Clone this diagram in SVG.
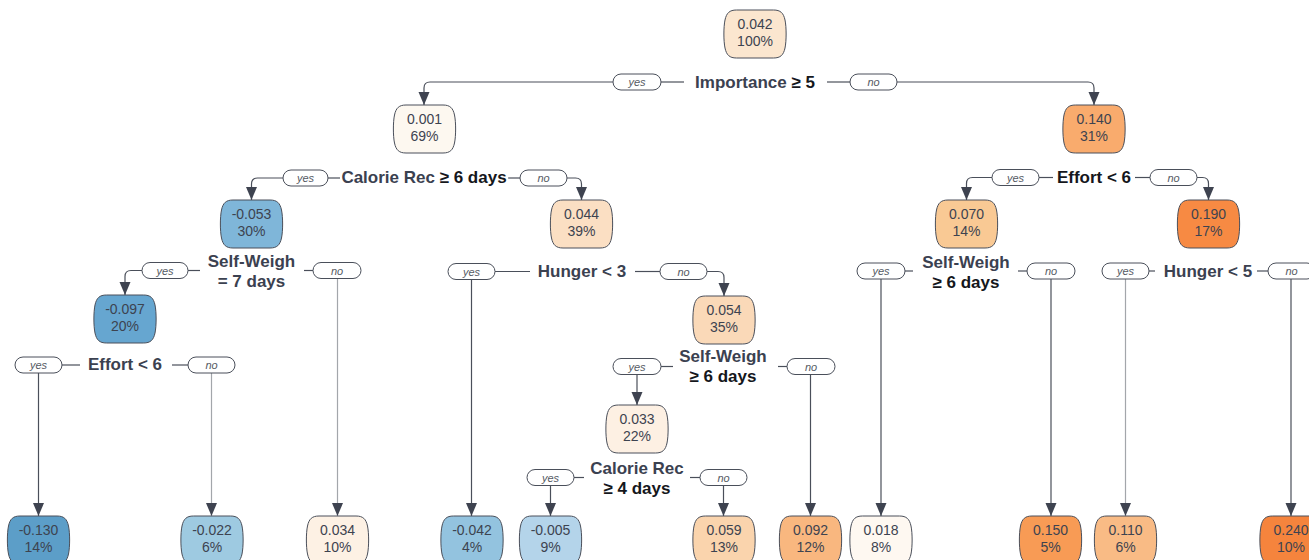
<svg xmlns="http://www.w3.org/2000/svg" xmlns:xlink="http://www.w3.org/1999/xlink" width="1309" height="560" viewBox="0 0 1309 560">
<defs>
<marker id="arr" markerUnits="userSpaceOnUse" markerWidth="12" markerHeight="14" refX="5.5" refY="13" orient="0" viewBox="0 0 11 14">
<path d="M0,0 L11,0 L5.5,13 Z" fill="#3e4350"/>
</marker>
<path id="nb" d="M13,0 H50 C57,0 60,3 61.5,10 C63,17 63,31 61.5,38 C60,45 57,48 50,48 H13 C6,48 3,45 1.5,38 C0,31 0,17 1.5,10 C3,3 6,0 13,0 Z"/>
<style>
.nd use{stroke:#4a4f5a;stroke-width:1}
.nd text{font-family:"Liberation Sans",Arial,sans-serif;font-size:14px;fill:#3d4350;text-anchor:middle}
.nd text.sp{font-size:17px;font-weight:bold;fill:#3b4150}
.nd text.blk,.nd tspan.blk{fill:#15171c}
.pl rect{fill:#ffffff;stroke:#4a4f5a;stroke-width:1}
.pl text{font-family:"Liberation Sans",Arial,sans-serif;font-size:11px;font-style:italic;fill:#555a63;text-anchor:middle}
.ln{fill:none;stroke:#4a4f5a;stroke-width:1.2}
.lt{fill:none;stroke:#a3a6ab;stroke-width:1.2}
.ar{marker-end:url(#arr)}
</style>
</defs>
<rect width="1309" height="560" fill="#ffffff"/>

<g id="connectors">
<path class="ln ar" d="M613,82 H430 Q424,82 424,88 V105"/>
<path class="ln" d="M661,82 H684"/>
<path class="ln" d="M827,82 H850"/>
<path class="ln ar" d="M897,82 H1088 Q1094,82 1094,88 V105"/>
<path class="ln ar" d="M283,178 H257.5 Q251.5,178 251.5,184 V200"/>
<path class="ln" d="M328,178 H340"/>
<path class="ln" d="M508,178 H520"/>
<path class="ln ar" d="M567,178 H575.5 Q581.5,178 581.5,184 V200"/>
<path class="ln ar" d="M992,177.5 H972.5 Q966.5,177.5 966.5,183.5 V200"/>
<path class="ln" d="M1039,177.5 H1053"/>
<path class="ln" d="M1135,177.5 H1150"/>
<path class="ln ar" d="M1197,177.5 H1202.5 Q1208.5,177.5 1208.5,183.5 V200"/>
<path class="ln ar" d="M142,270.5 H131 Q125,270.5 125,276.5 V295"/>
<path class="ln" d="M188,270.5 H200"/>
<path class="ln" d="M304,270.5 H313"/>
<path class="lt ar" d="M337.5,278.5 V516"/>
<path class="ln ar" d="M471.5,279.5 V516"/>
<path class="ln" d="M495,271.5 H530"/>
<path class="ln" d="M635,271.5 H660"/>
<path class="ln ar" d="M707,271.5 H718 Q724,271.5 724,277.5 V296"/>
<path class="ln ar" d="M38.5,373 V516"/>
<path class="ln" d="M62,365 H80"/>
<path class="ln" d="M172,365 H188"/>
<path class="lt ar" d="M211.5,373 V516"/>
<path class="ln ar" d="M637,374.5 V405"/>
<path class="ln" d="M661,366.5 H673"/>
<path class="ln" d="M778,366.5 H787"/>
<path class="ln ar" d="M810.5,374.5 V516"/>
<path class="ln ar" d="M550.5,485.5 V516"/>
<path class="ln" d="M574,477.5 H584"/>
<path class="ln" d="M690,477.5 H700"/>
<path class="ln ar" d="M723.5,485.5 V516"/>
<path class="ln ar" d="M881,279 V516"/>
<path class="ln" d="M905,271 H913"/>
<path class="ln" d="M1018,271 H1027"/>
<path class="ln ar" d="M1051,279 V516"/>
<path class="lt ar" d="M1125.5,279 V516"/>
<path class="ln" d="M1149,271 H1155"/>
<path class="ln" d="M1257,271 H1268"/>
<path class="ln ar" d="M1291,279 V516"/>
</g>

<g id="edge-labels">
<g class="pl"><rect x="613" y="74" width="48" height="16" rx="8"/><text x="637" y="86">yes</text></g>
<g class="pl"><rect x="850" y="74" width="47" height="16" rx="8"/><text x="873.5" y="86">no</text></g>
<g class="pl"><rect x="283" y="170" width="45" height="16" rx="8"/><text x="305.5" y="182">yes</text></g>
<g class="pl"><rect x="520" y="170" width="47" height="16" rx="8"/><text x="543.5" y="182">no</text></g>
<g class="pl"><rect x="992" y="169.5" width="47" height="16" rx="8"/><text x="1015.5" y="181.5">yes</text></g>
<g class="pl"><rect x="1150" y="169.5" width="47" height="16" rx="8"/><text x="1173.5" y="181.5">no</text></g>
<g class="pl"><rect x="142" y="262.5" width="46" height="16" rx="8"/><text x="165" y="274.5">yes</text></g>
<g class="pl"><rect x="313" y="262.5" width="48" height="16" rx="8"/><text x="337" y="274.5">no</text></g>
<g class="pl"><rect x="448" y="263.5" width="47" height="16" rx="8"/><text x="471.5" y="275.5">yes</text></g>
<g class="pl"><rect x="660" y="263.5" width="47" height="16" rx="8"/><text x="683.5" y="275.5">no</text></g>
<g class="pl"><rect x="15" y="357" width="47" height="16" rx="8"/><text x="38.5" y="369">yes</text></g>
<g class="pl"><rect x="188" y="357" width="47" height="16" rx="8"/><text x="211.5" y="369">no</text></g>
<g class="pl"><rect x="613" y="358.5" width="48" height="16" rx="8"/><text x="637" y="370.5">yes</text></g>
<g class="pl"><rect x="787" y="358.5" width="48" height="16" rx="8"/><text x="811" y="370.5">no</text></g>
<g class="pl"><rect x="527" y="469.5" width="47" height="16" rx="8"/><text x="550.5" y="481.5">yes</text></g>
<g class="pl"><rect x="700" y="469.5" width="47" height="16" rx="8"/><text x="723.5" y="481.5">no</text></g>
<g class="pl"><rect x="857" y="263" width="48" height="16" rx="8"/><text x="881" y="275">yes</text></g>
<g class="pl"><rect x="1027" y="263" width="48" height="16" rx="8"/><text x="1051" y="275">no</text></g>
<g class="pl"><rect x="1102" y="263" width="47" height="16" rx="8"/><text x="1125.5" y="275">yes</text></g>
<g class="pl"><rect x="1268" y="263" width="47" height="16" rx="8"/><text x="1291.5" y="275">no</text></g>
</g>

<g id="n-root" class="nd"><use xlink:href="#nb" href="#nb" x="723.5" y="10" fill="#fbe6cf"/><text x="755" y="29">0.042</text><text x="755" y="46">100%</text>
<text class="sp" x="755" y="88">Importance <tspan class="blk">≥ 5</tspan></text></g>

<g id="n-0001" class="nd"><use xlink:href="#nb" href="#nb" x="393" y="105" fill="#fdf8f0"/><text x="424.5" y="124">0.001</text><text x="424.5" y="141">69%</text>
<text class="sp" x="424" y="183">Calorie Rec <tspan class="blk">≥ 6 days</tspan></text></g>

<g id="n-0140" class="nd"><use xlink:href="#nb" href="#nb" x="1062.5" y="105" fill="#f9ab6d"/><text x="1094" y="124">0.140</text><text x="1094" y="141">31%</text>
<text class="sp blk" x="1094" y="183">Effort &lt; 6</text></g>

<g id="n-m0053" class="nd"><use xlink:href="#nb" href="#nb" x="220" y="200" fill="#7fb6d9"/><text x="251.5" y="219">-0.053</text><text x="251.5" y="236">30%</text>
<text class="sp" x="251.5" y="267">Self-Weigh</text><text class="sp" x="251.5" y="287">= 7 days</text></g>

<g id="n-0044" class="nd"><use xlink:href="#nb" href="#nb" x="550" y="200" fill="#fbdfc3"/><text x="581.5" y="219">0.044</text><text x="581.5" y="236">39%</text>
<text class="sp" x="582" y="277">Hunger &lt; 3</text></g>

<g id="n-0070" class="nd"><use xlink:href="#nb" href="#nb" x="935" y="200" fill="#f9c994"/><text x="966.5" y="219">0.070</text><text x="966.5" y="236">14%</text>
<text class="sp" x="966" y="268">Self-Weigh</text><text class="sp blk" x="966" y="288">≥ 6 days</text></g>

<g id="n-0190" class="nd"><use xlink:href="#nb" href="#nb" x="1177" y="200" fill="#f78a43"/><text x="1208.5" y="219">0.190</text><text x="1208.5" y="236">17%</text>
<text class="sp" x="1208" y="277">Hunger &lt; 5</text></g>

<g id="n-m0097" class="nd"><use xlink:href="#nb" href="#nb" x="93.5" y="295" fill="#66a6d0"/><text x="125" y="314">-0.097</text><text x="125" y="331">20%</text>
<text class="sp" x="125" y="370">Effort &lt; 6</text></g>

<g id="n-0054" class="nd"><use xlink:href="#nb" href="#nb" x="692.5" y="296" fill="#fad9b8"/><text x="724" y="315">0.054</text><text x="724" y="332">35%</text>
<text class="sp" x="723" y="362">Self-Weigh</text><text class="sp blk" x="723" y="382">≥ 6 days</text></g>

<g id="n-0033" class="nd"><use xlink:href="#nb" href="#nb" x="605.5" y="405" fill="#fdf0e3"/><text x="637" y="424">0.033</text><text x="637" y="441">22%</text>
<text class="sp" x="637" y="474">Calorie Rec</text><text class="sp blk" x="637" y="494">≥ 4 days</text></g>

<g id="n-m0130" class="nd"><use xlink:href="#nb" href="#nb" x="7" y="516" fill="#5c9ec8"/><text x="38.5" y="535">-0.130</text><text x="38.5" y="552">14%</text></g>
<g id="n-m0022" class="nd"><use xlink:href="#nb" href="#nb" x="180.5" y="516" fill="#9ecae1"/><text x="212" y="535">-0.022</text><text x="212" y="552">6%</text></g>
<g id="n-0034" class="nd"><use xlink:href="#nb" href="#nb" x="306" y="516" fill="#fdf1e4"/><text x="337.5" y="535">0.034</text><text x="337.5" y="552">10%</text></g>
<g id="n-m0042" class="nd"><use xlink:href="#nb" href="#nb" x="440.5" y="516" fill="#93c3df"/><text x="472" y="535">-0.042</text><text x="472" y="552">4%</text></g>
<g id="n-m0005" class="nd"><use xlink:href="#nb" href="#nb" x="519" y="516" fill="#b4d4ea"/><text x="550.5" y="535">-0.005</text><text x="550.5" y="552">9%</text></g>
<g id="n-0059" class="nd"><use xlink:href="#nb" href="#nb" x="692.5" y="516" fill="#fad4ad"/><text x="724" y="535">0.059</text><text x="724" y="552">13%</text></g>
<g id="n-0092" class="nd"><use xlink:href="#nb" href="#nb" x="779" y="516" fill="#f9b77f"/><text x="810.5" y="535">0.092</text><text x="810.5" y="552">12%</text></g>
<g id="n-0018" class="nd"><use xlink:href="#nb" href="#nb" x="849.5" y="516" fill="#fef8f1"/><text x="881" y="535">0.018</text><text x="881" y="552">8%</text></g>
<g id="n-0150" class="nd"><use xlink:href="#nb" href="#nb" x="1019" y="516" fill="#f89b55"/><text x="1050.5" y="535">0.150</text><text x="1050.5" y="552">5%</text></g>
<g id="n-0110" class="nd"><use xlink:href="#nb" href="#nb" x="1094" y="516" fill="#f9bb85"/><text x="1125.5" y="535">0.110</text><text x="1125.5" y="552">6%</text></g>
<g id="n-0240" class="nd"><use xlink:href="#nb" href="#nb" x="1259.5" y="516" fill="#f5843d"/><text x="1291" y="535">0.240</text><text x="1291" y="552">10%</text></g>
</svg>
